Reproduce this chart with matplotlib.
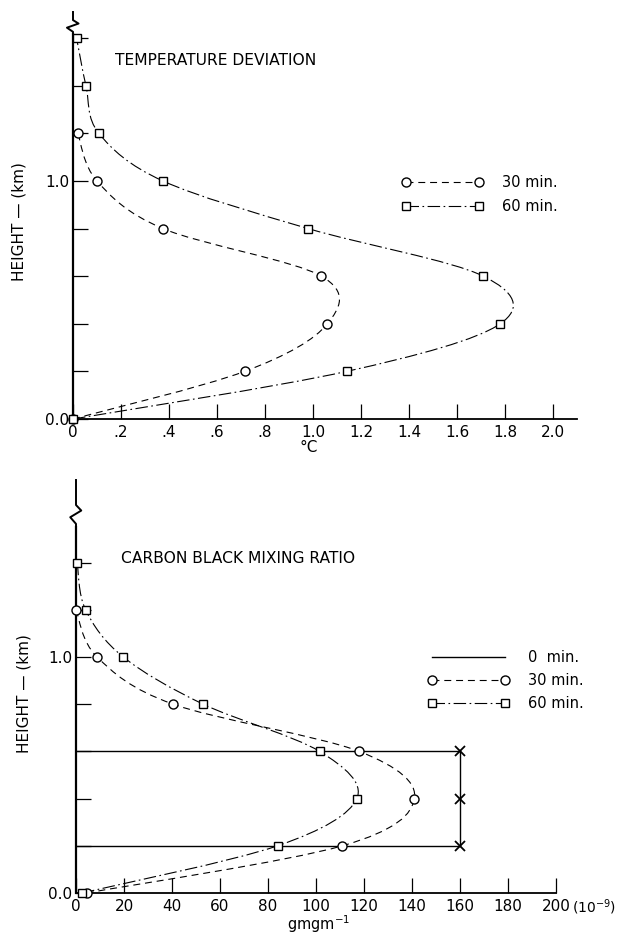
import numpy as np
import matplotlib
matplotlib.use("Agg")
import matplotlib.pyplot as plt
from matplotlib.path import Path
from matplotlib.patches import PathPatch
from matplotlib.lines import Line2D
import matplotlib.transforms as mtransforms

plt.rcParams['font.family'] = ['DejaVu Sans']
plt.rcParams['lines.scale_dashes'] = False

# --- data ---
# temperature deviation (deg C) against height (km)
temp_h30 = [0.0, 0.2, 0.4, 0.6, 0.8, 1.0, 1.2]
temp_v30 = [0.0, 0.715, 1.06, 1.035, 0.375, 0.10, 0.02]
temp_h60 = [0.0, 0.2, 0.4, 0.6, 0.8, 1.0, 1.2, 1.4, 1.6]
temp_v60 = [0.0, 1.14, 1.78, 1.71, 0.98, 0.375, 0.108, 0.054, 0.015]

# carbon black mixing ratio (1e-9 gm/gm) against height (km)
cb_h0 = [0.6, 0.6, 0.4, 0.2, 0.2]
cb_v0 = [0.0, 160.0, 160.0, 160.0, 0.0]
cb_h30 = [0.0, 0.2, 0.4, 0.6, 0.8, 1.0, 1.2]
cb_v30 = [4.5, 111.0, 141.0, 118.0, 40.5, 8.8, 0.0]
cb_h60 = [0.0, 0.2, 0.4, 0.6, 0.8, 1.0, 1.2, 1.4]
cb_v60 = [2.5, 84.0, 117.0, 101.5, 53.0, 19.7, 4.0, 0.5]

temp_xticks = [0.0, 0.2, 0.4, 0.6, 0.8, 1.0, 1.2, 1.4, 1.6, 1.8, 2.0]
temp_xlabels = ['0', '.2', '.4', '.6', '.8', '1.0', '1.2', '1.4', '1.6', '1.8', '2.0']
cb_xticks = [0, 20, 40, 60, 80, 100, 120, 140, 160, 180, 200]

DASH = (0, (5, 3.5))
DASHDOT = (0, (9, 2.5, 1.2, 2.5))
LW = 0.8


def smooth_path(xs, ys):
    # Catmull-Rom through the plotted points, drawn as cubic Bezier segments
    pts = np.column_stack([xs, ys])
    ext = np.vstack([pts[0], pts, pts[-1]])
    verts = [pts[0]]
    codes = [Path.MOVETO]
    for i in range(len(pts) - 1):
        p0, p1, p2, p3 = ext[i], ext[i + 1], ext[i + 2], ext[i + 3]
        verts += [p1 + (p2 - p0) / 6.0, p2 - (p3 - p1) / 6.0, p2]
        codes += [Path.CURVE4] * 3
    return Path(verts, codes)


def draw_series(ax, v, h, marker, ls, ms):
    ax.add_patch(PathPatch(smooth_path(v, h), fill=False, ls=ls, lw=LW,
                           edgecolor='black', zorder=2))
    ax.plot(v, h, ls='none', marker=marker, ms=ms, mfc='white',
            mec='black', mew=1.0, zorder=3, clip_on=False)


def style_axes(ax, ymax, brk_lo, brk_hi, yticks):
    for s in ['top', 'right']:
        ax.spines[s].set_visible(False)
    ax.spines['left'].set_linewidth(1.6)
    ax.spines['bottom'].set_linewidth(1.3)
    ax.spines['left'].set_bounds(0, brk_lo)
    # axis break at the top of the height axis
    tr = mtransforms.blended_transform_factory(ax.transAxes, ax.transData)
    zx = [0, 0, -0.012, 0.011, 0, 0]
    zy = [brk_lo, brk_lo + (brk_hi - brk_lo) * 0.15, brk_lo + (brk_hi - brk_lo) * 0.45,
          brk_lo + (brk_hi - brk_lo) * 0.75, brk_hi, ymax]
    ax.add_line(Line2D(zx, zy, transform=tr, color='black', lw=1.4, clip_on=False))
    ax.set_ylim(0, ymax)
    ax.set_yticks(yticks)
    ax.set_yticklabels(['1.0' if abs(t - 1.0) < 1e-9 else ('0.0' if t == 0 else '') for t in yticks])
    ax.tick_params(direction='in', length=11, width=0.9, labelsize=11, pad=2.5)
    ax.tick_params(axis='x', pad=4)


fig = plt.figure(figsize=(6.17, 9.36), dpi=100)

# ---------------- temperature deviation ----------------
ax1 = fig.add_axes([73 / 617, 517 / 936, 504 / 617, 407 / 936])
ax1.set_xlim(0, 2.1)
draw_series(ax1, temp_v30, temp_h30, 'o', DASH, 6.5)
draw_series(ax1, temp_v60, temp_h60, 's', DASHDOT, 6.0)
style_axes(ax1, 1.71, 1.618, 1.676, [0.0, 0.2, 0.4, 0.6, 0.8, 1.0, 1.2, 1.4, 1.6])
ax1.set_xticks(temp_xticks)
ax1.set_xticklabels(temp_xlabels)
ax1.set_ylabel('HEIGHT — (km)', fontsize=11)
ax1.yaxis.set_label_coords(-0.092, 0.486)
ax1.set_xlabel('°C', fontsize=11)
ax1.xaxis.set_label_coords(0.468, -0.052)
ax1.text(0.083, 0.880, 'TEMPERATURE DEVIATION', transform=ax1.transAxes,
         fontsize=11.2, ha='left', va='center')

h30 = Line2D([], [], ls=DASH, lw=LW, color='black', marker='o', ms=6.5, mfc='white', mec='black')
h60 = Line2D([], [], ls=DASHDOT, lw=LW, color='black', marker='s', ms=6.0, mfc='white', mec='black')
ax1.legend([h30, h60], ['30 min.', '60 min.'], loc='upper left',
           bbox_to_anchor=(402 / 617, 1 - 175 / 936), bbox_transform=fig.transFigure,
           frameon=False, fontsize=10.5, numpoints=2, handlelength=5.6,
           handletextpad=1.25, labelspacing=0.65, borderpad=0, borderaxespad=0)

# ---------------- carbon black mixing ratio ----------------
ax2 = fig.add_axes([76 / 617, 43 / 936, 480 / 617, 413 / 936])
ax2.set_xlim(0, 200)
ax2.plot(cb_v0, cb_h0, color='black', lw=1.0, zorder=2)
ax2.plot(cb_v0[1:4], cb_h0[1:4], ls='none', marker='x', ms=7, mew=1.3, color='black',
         zorder=3)
draw_series(ax2, cb_v30, cb_h30, 'o', DASH, 6.5)
draw_series(ax2, cb_v60, cb_h60, 's', DASHDOT, 6.0)
style_axes(ax2, 1.75, 1.55, 1.644, [0.0, 0.2, 0.4, 0.6, 0.8, 1.0, 1.2, 1.4])
ax2.set_xticks(cb_xticks)
ax2.set_xticklabels([str(t) for t in cb_xticks])
ax2.set_ylabel('HEIGHT — (km)', fontsize=11)
ax2.yaxis.set_label_coords(-0.092, 0.482)
ax2.set_xlabel(r'gmgm$^{-1}$', fontsize=10.5)
ax2.xaxis.set_label_coords(0.506, -0.05)
ax2.text(1.033, -0.034, r'(10$^{-9}$)', transform=ax2.transAxes, fontsize=10,
         ha='left', va='center')
ax2.text(0.094, 0.811, 'CARBON BLACK MIXING RATIO', transform=ax2.transAxes,
         fontsize=11.2, ha='left', va='center')

h0 = Line2D([], [], ls='-', lw=1.0, color='black')
ax2.legend([h0, h30, h60], ['0  min.', '30 min.', '60 min.'], loc='upper left',
           bbox_to_anchor=(428 / 617, 1 - 650 / 936), bbox_transform=fig.transFigure,
           frameon=False, fontsize=10.5, numpoints=2, handlelength=5.6,
           handletextpad=1.25, labelspacing=0.55, borderpad=0, borderaxespad=0)

fig.savefig('out.png', dpi=100, facecolor='white')
